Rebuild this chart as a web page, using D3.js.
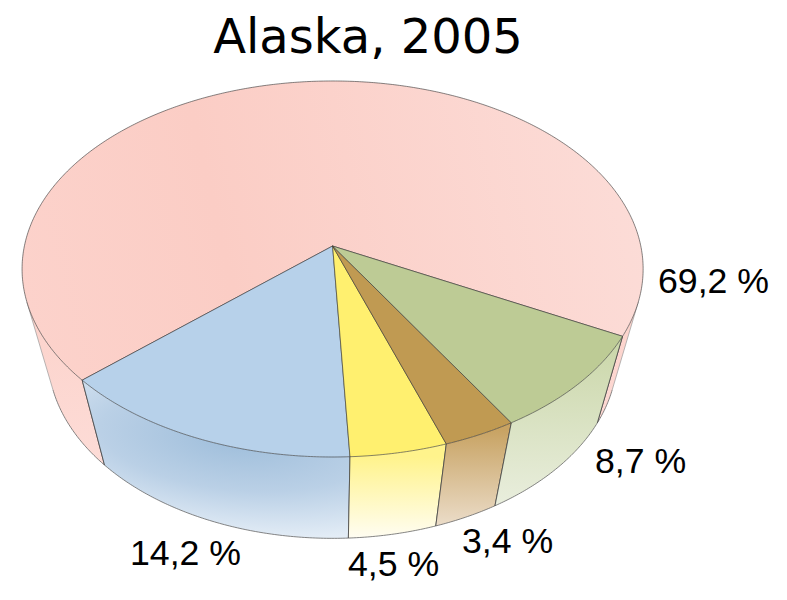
<!DOCTYPE html>
<html>
<head>
<meta charset="utf-8">
<script src="https://cdn.jsdelivr.net/npm/d3@7/dist/d3.min.js"></script>
<style>html,body{margin:0;padding:0;background:#fff}svg{display:block}</style>
</head>
<body>
<svg id="chart" width="787" height="600"></svg>
<script>
const title = "Alaska, 2005";
const categories = ["a", "b", "c", "d", "e"];
const values = [69.2, 14.2, 4.5, 3.4, 8.7];
const labels = ["69,2 %", "14,2 %", "4,5 %", "3,4 %", "8,7 %"];

const rad = Math.PI / 180;
const apexX = 332.6, apexY = 246;
const A = 308.2, B = 185.2, C = 97.7, K = 0.1223, M = 0.09;
const START = 62.6 * rad;
const SIL = 73 * rad;

// perspective projection of a cylinder point: angle from front (clockwise on screen), depth 0..1
function project(t, z) {
  const u = Math.sin(t), v = Math.cos(t);
  const d = 1 - K * v + M * z;
  return [apexX + A * u / d, apexY + (B * v + C * z) / d];
}
function arcPts(a, b, z) {
  const n = Math.max(2, Math.ceil(Math.abs(b - a) / (0.5 * rad)));
  return d3.range(n + 1).map(i => project(a + (b - a) * i / n, z));
}
const line = d3.line();
const svg = d3.select("#chart");
const defs = svg.append("defs");

function linear(id, x1, y1, x2, y2, stops) {
  const g = defs.append("linearGradient").attr("id", id).attr("gradientUnits", "userSpaceOnUse")
    .attr("x1", x1).attr("y1", y1).attr("x2", x2).attr("y2", y2);
  stops.forEach(s => g.append("stop").attr("offset", s[0]).attr("stop-color", s[1]));
}
linear("topRed", 30, 330, 640, 190, [[0, "#fcd2cb"], [0.33, "#fbcdc5"], [1, "#fcdcd7"]]);
linear("sideRed", 0, 268, 0, 465, [[0, "#fcd0c8"], [1, "#fddcd7"]]);
linear("sideYellow", 0, 457, 0, 538, [[0, "#fff38c"], [1, "#fffdf2"]]);
linear("sideBrown", 0, 430, 0, 525, [[0, "#c8a363"], [1, "#ebdcc8"]]);
linear("sideGreen", 0, 345, 0, 505, [[0, "#cbd7aa"], [1, "#e9eedd"]]);
const rg = defs.append("radialGradient").attr("id", "sideBlue").attr("gradientUnits", "userSpaceOnUse")
  .attr("cx", 0).attr("cy", 0).attr("r", 100)
  .attr("gradientTransform", "translate(235,440) rotate(6) scale(2.7,1)");
[[0, "#9fbedb"], [0.5, "#bad0e6"], [1, "#e8f0f8"]].forEach(s =>
  rg.append("stop").attr("offset", s[0]).attr("stop-color", s[1]));

const topFill = ["url(#topRed)", "#b7d1ea", "#fff06f", "#c09a52", "#bdcb95"];
const sideFill = ["url(#sideRed)", "url(#sideBlue)", "url(#sideYellow)", "url(#sideBrown)", "url(#sideGreen)"];

const pie = d3.pie().sort(null).startAngle(START).endAngle(START + 2 * Math.PI);
const arcs = pie(values);

// side walls: clip each slice to the visible band of the cylinder
const sides = svg.append("g");
arcs.forEach((d, i) => {
  [[-SIL, SIL], [2 * Math.PI - SIL, 2 * Math.PI + SIL]].forEach(([lo, hi]) => {
    const a = Math.max(d.startAngle, lo), b = Math.min(d.endAngle, hi);
    if (a >= b) return;
    const pts = arcPts(a, b, 0).concat(arcPts(b, a, 1));
    sides.append("path").attr("d", line(pts) + "Z").attr("fill", sideFill[i]).attr("stroke", "none");
    // edges
    const e = sides.append("g").attr("fill", "none");
    e.append("path").attr("d", line(arcPts(a, b, 1))).attr("stroke", "#666").attr("stroke-width", 0.8);
    [a, b].forEach(t => {
      const sil = Math.abs(Math.sin(t)) > Math.sin(SIL) - 1e-6;
      e.append("path").attr("d", line([project(t, 0), project(t, 1)]))
        .attr("stroke", sil ? "#999" : "#444").attr("stroke-width", sil ? 0.7 : 0.8);
    });
  });
});

// top surface: full slices
const tops = svg.append("g");
arcs.forEach((d, i) => {
  const pts = [[apexX, apexY]].concat(arcPts(d.startAngle, d.endAngle, 0));
  tops.append("path").attr("d", line(pts) + "Z")
    .attr("fill", topFill[i]).attr("stroke", "#333").attr("stroke-width", 0.6)
    .attr("stroke-linejoin", "round");
});

svg.append("text").text(title).attr("x", 368).attr("y", 53).attr("text-anchor", "middle")
  .attr("font-family", "DejaVu Sans").attr("font-size", 48).attr("fill", "#000");

const labelAnchor = [[658, 293], [130, 565], [348, 576], [462, 553], [595, 473]];
svg.append("g").selectAll("text").data(labels).join("text")
  .text(d => d)
  .attr("x", (d, i) => labelAnchor[i][0]).attr("y", (d, i) => labelAnchor[i][1])
  .attr("font-family", "Liberation Sans").attr("font-size", 35.7).attr("fill", "#000");
</script>
</body>
</html>
